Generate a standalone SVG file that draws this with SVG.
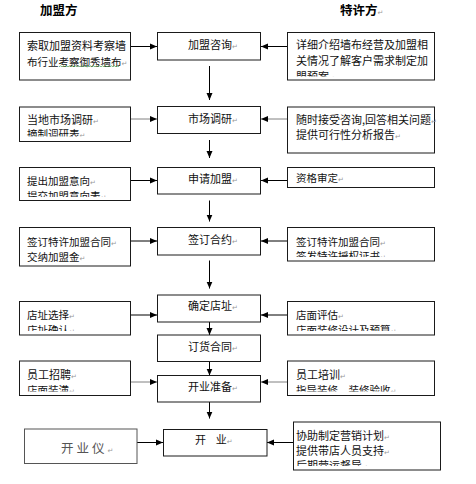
<svg xmlns="http://www.w3.org/2000/svg" width="476" height="484" viewBox="0 0 476 484">
<style>
.bx{fill:#fff;stroke:#1a1a1a;stroke-width:1}
.t{font-family:"Noto Sans CJK SC","Noto Sans",sans-serif;font-size:11px;fill:#111}
.s{font-size:10.5px}
.h{font-family:"Noto Sans CJK SC","Noto Sans",sans-serif;font-size:12.5px;font-weight:bold;fill:#000}
.r{font-family:"DejaVu Sans",sans-serif;font-size:7px;fill:#999;font-weight:normal}
.ln{stroke:#000;stroke-width:1;fill:none;marker-end:url(#ah)}
.lg{stroke:#808080;stroke-width:1;fill:none;marker-end:url(#ah)}
</style>
<defs>
<marker id="ah" markerUnits="userSpaceOnUse" markerWidth="8" markerHeight="8" refX="7" refY="4" orient="auto"><path d="M0,1 L7,4 L0,7 Z" fill="#000"/></marker>
<clipPath id="cR1"><rect x="288" y="33" width="146" height="43.5"/></clipPath>
<clipPath id="cL2"><rect x="20" y="107.5" width="110" height="29"/></clipPath>
<clipPath id="cL3"><rect x="20" y="168" width="110" height="29"/></clipPath>
<clipPath id="cR4"><rect x="288" y="228" width="146" height="29"/></clipPath>
<clipPath id="cL5"><rect x="20" y="302" width="110" height="29"/></clipPath>
<clipPath id="cR5"><rect x="288" y="302" width="146" height="29"/></clipPath>
<clipPath id="cL7"><rect x="20" y="361.5" width="110" height="30"/></clipPath>
<clipPath id="cR7"><rect x="288" y="361.5" width="146" height="30"/></clipPath>
<clipPath id="cR8"><rect x="294" y="422.5" width="146" height="43.5"/></clipPath>
</defs>
<rect width="476" height="484" fill="#fff"/>

<g id="headers">
<text class="h" x="40" y="15">加盟方</text>
<text class="h" x="340" y="15">特许方<tspan class="r">↵</tspan></text>
</g>

<g id="connectors">
<path class="ln" d="M131,46.5 H157"/>
<path class="ln" d="M287,46.5 H261"/>
<path class="lg" d="M131,119 H157"/>
<path class="lg" d="M287,119 H261"/>
<path class="ln" d="M131,180.5 H157"/>
<path class="ln" d="M287,180.5 H261"/>
<path class="ln" d="M131,241 H157"/>
<path class="ln" d="M287,241 H261"/>
<path class="ln" d="M131,315 H157"/>
<path class="ln" d="M287,315 H261"/>
<path class="lg" d="M131,382 H157"/>
<path class="lg" d="M287,382 H261"/>
<path class="ln" d="M137,442.5 H163"/>
<path class="ln" d="M293,442.5 H267"/>
<path class="ln" d="M209.5,66 V100"/>
<path class="ln" d="M209.5,140 V158"/>
<path class="ln" d="M209.5,200.5 V221.5"/>
<path class="ln" d="M209.5,260.5 V288.5"/>
<path class="ln" d="M209.5,322 V335"/>
<path class="ln" d="M209.5,361.5 V375.5"/>
<path class="ln" d="M209.5,402 V418.5"/>
</g>

<g id="consult">
<rect class="bx" x="157.5" y="32.5" width="103" height="27.5"/>
<text class="t" x="188" y="48.5">加盟咨询<tspan class="r">↵</tspan></text>
</g>
<g id="consult-left">
<rect class="bx" x="19.5" y="32.5" width="111" height="47.5"/>
<text class="t" x="27" y="49.5">索取加盟资料考察墙</text>
<text class="t s" x="27" y="65.5">布行业考察御秀墙布<tspan class="r">↵</tspan></text>
<path d="M59,66.8 l1.5,-1 1.5,1 1.5,-1 1.5,1 1.5,-1 1.5,1 1.5,-1 1.5,1 1.5,-1 1.5,1 1.5,-1 1.5,1 1.5,-1 1.5,1 1.5,-1 1.5,1 1.5,-1 1.5,1 1.5,-1 1.5,1 1.5,-1 1.5,1 1.5,-1 1.5,1 1.5,-1 1.5,1 1.5,-1 1.5,1 1.5,-1 1.5,1 1.5,-1 1.5,1 1.5,-1 1.5,1 1.5,-1 1.5,1 1.5,-1 1.5,1 1.5,-1 1.5,1" fill="none" stroke="#4a9a4a" stroke-width="0.7"/>
</g>
<g id="consult-right">
<rect class="bx" x="287.5" y="32.5" width="147" height="47.5"/>
<g clip-path="url(#cR1)">
<text class="t" x="296" y="48.5">详细介绍墙布经营及加盟相</text>
<text class="t" x="296" y="65">关情况了解客户需求制定加</text>
<text class="t" x="296" y="81">盟预案<tspan class="r">↵</tspan></text>
</g>
</g>

<g id="research">
<rect class="bx" x="157.5" y="106.5" width="103" height="27"/>
<text class="t" x="188" y="122.5">市场调研<tspan class="r">↵</tspan></text>
</g>
<g id="research-left">
<rect class="bx" x="19.5" y="107" width="111" height="34.5"/>
<g clip-path="url(#cL2)">
<text class="t" x="27" y="123.5">当地市场调研<tspan class="r">↵</tspan></text>
<text class="t s" x="27" y="138">摘制调研表<tspan class="r">↵</tspan></text>
</g>
</g>
<g id="research-right">
<rect class="bx" x="287.5" y="107" width="147" height="46"/>
<text class="t" x="296" y="123.5">随时接受咨询,回答相关问题<tspan class="r">↵</tspan></text>
<text class="t" x="296" y="139">提供可行性分析报告<tspan class="r">↵</tspan></text>
</g>

<g id="apply">
<rect class="bx" x="157.5" y="167.5" width="103" height="26.5"/>
<text class="t" x="188" y="183">申请加盟<tspan class="r">↵</tspan></text>
</g>
<g id="apply-left">
<rect class="bx" x="19.5" y="167.5" width="111" height="33"/>
<g clip-path="url(#cL3)">
<text class="t s" x="27" y="185">提出加盟意向<tspan class="r">↵</tspan></text>
<text class="t s" x="27" y="199.5">提交加盟意向表<tspan class="r">↵</tspan></text>
</g>
</g>
<g id="apply-right">
<rect class="bx" x="287.5" y="167.5" width="147" height="20"/>
<text class="t s" x="296" y="181.5">资格审定<tspan class="r">↵</tspan></text>
</g>

<g id="contract">
<rect class="bx" x="157.5" y="227.5" width="103" height="27.5"/>
<text class="t" x="188" y="243.5">签订合约<tspan class="r">↵</tspan></text>
</g>
<g id="contract-left">
<rect class="bx" x="19.5" y="227.5" width="111" height="38.5"/>
<text class="t s" x="27" y="245.5">签订特许加盟合同<tspan class="r">↵</tspan></text>
<text class="t s" x="27" y="260.5">交纳加盟金<tspan class="r">↵</tspan></text>
</g>
<g id="contract-right">
<rect class="bx" x="287.5" y="227.5" width="147" height="33.5"/>
<g clip-path="url(#cR4)">
<text class="t s" x="296" y="245.5">签订特许加盟合同<tspan class="r">↵</tspan></text>
<text class="t s" x="296" y="260">签发特许授权证书<tspan class="r">↵</tspan></text>
</g>
</g>

<g id="site">
<rect class="bx" x="157.5" y="295" width="103" height="27"/>
<text class="t" x="188" y="309.5">确定店址<tspan class="r">↵</tspan></text>
</g>
<g id="site-left">
<rect class="bx" x="19.5" y="301.5" width="111" height="33.5"/>
<g clip-path="url(#cL5)">
<text class="t s" x="27" y="319">店址选择<tspan class="r">↵</tspan></text>
<text class="t s" x="27" y="333.5">店址确认<tspan class="r">↵</tspan></text>
</g>
</g>
<g id="site-right">
<rect class="bx" x="287.5" y="301.5" width="147" height="33.5"/>
<g clip-path="url(#cR5)">
<text class="t s" x="296" y="319">店面评估<tspan class="r">↵</tspan></text>
<text class="t s" x="296" y="333.5">店面装修设计及预算<tspan class="r">↵</tspan></text>
</g>
</g>

<g id="order">
<rect class="bx" x="157.5" y="335" width="103" height="26.5"/>
<text class="t" x="188" y="351">订货合同<tspan class="r">↵</tspan></text>
</g>

<g id="prepare">
<rect class="bx" x="157.5" y="375.5" width="103" height="26.5"/>
<text class="t" x="188" y="391">开业准备<tspan class="r">↵</tspan></text>
</g>
<g id="prepare-left">
<rect class="bx" x="19.5" y="361" width="111" height="34.5"/>
<g clip-path="url(#cL7)">
<text class="t" x="27" y="379">员工招聘<tspan class="r">↵</tspan></text>
<text class="t s" x="27" y="393.5">店面装潢<tspan class="r">↵</tspan></text>
</g>
</g>
<g id="prepare-right">
<rect class="bx" x="287.5" y="361" width="147" height="34.5"/>
<g clip-path="url(#cR7)">
<text class="t" x="296" y="379">员工培训<tspan class="r">↵</tspan></text>
<text class="t s" x="296" y="393.5">指导装修、装修验收<tspan class="r">↵</tspan></text>
</g>
</g>

<g id="open">
<rect class="bx" x="163.5" y="429.5" width="103.5" height="26.5"/>
<text class="t" x="195" y="444" xml:space="preserve">开    业<tspan class="r">↵</tspan></text>
</g>
<g id="open-left">
<rect class="bx" x="24.5" y="429" width="112.5" height="34.5" style="stroke:#555"/>
<text class="t" x="61" y="452.5" style="font-size:12.5px;fill:#555;letter-spacing:3px">开业仪<tspan class="r" style="letter-spacing:0">↵</tspan></text>
</g>
<g id="open-right">
<rect class="bx" x="293.5" y="422" width="147" height="48"/>
<g clip-path="url(#cR8)">
<text class="t" x="296" y="439.5">协助制定营销计划<tspan class="r">↵</tspan></text>
<text class="t" x="296" y="454.5">提供带店人员支持<tspan class="r">↵</tspan></text>
<text class="t" x="296" y="469.5">后期营运督导<tspan class="r">↵</tspan></text>
</g>
</g>
</svg>
